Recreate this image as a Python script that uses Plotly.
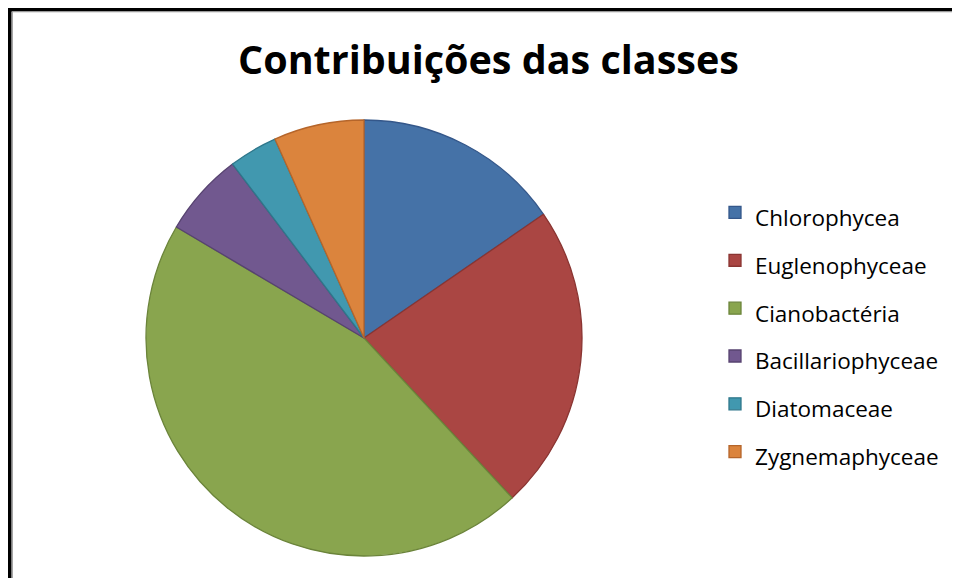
import plotly.graph_objects as go

# class shares (percent)
classes = ["Chlorophycea", "Euglenophyceae", "Cianobactéria",
           "Bacillariophyceae", "Diatomaceae", "Zygnemaphyceae"]
shares = [15.4, 22.7, 45.4, 6.2, 3.6, 6.7]

fill_colors = ["#4572A7", "#AA4643", "#89A54E", "#71588F", "#4198AF", "#DB843D"]
edge_colors = ["#34578A", "#8A3532", "#6B843A", "#574370", "#2F778B", "#B5652A"]

# page body has an 8px margin, so the figure is a bit smaller than the window
W, H = 952, 570


def px_x(v):
    return v / W


def px_y(v):
    return 1 - v / H


fig = go.Figure(go.Pie(
    labels=[f"<span style='font-size:22.5px'>{c}</span>" for c in classes],
    values=shares,
    sort=False,
    direction="clockwise",
    rotation=0,
    textinfo="none",
    hoverinfo="label+percent",
    marker=dict(colors=fill_colors, line=dict(color=edge_colors, width=1.3)),
    domain=dict(x=[px_x(138), px_x(574)], y=[px_y(548), px_y(112)]),
))

fig.update_layout(
    width=W, height=H,
    margin=dict(l=0, r=0, t=0, b=0),
    paper_bgcolor="white",
    font=dict(family="Open Sans, Lato, sans-serif", color="black"),
    title=dict(text="<b>Contribuições das classes</b>",
               x=px_x(480.5), y=px_y(52), xanchor="center", yanchor="middle",
               font=dict(size=39.5, family="Open Sans, sans-serif", color="black")),
    # big legend font only sets the row spacing; the labels carry their own size
    legend=dict(x=px_x(707), xanchor="left", y=px_y(324.5), yanchor="middle",
                font=dict(size=34.5), bgcolor="rgba(0,0,0,0)"),
    shapes=[
        dict(type="rect", xref="paper", yref="paper",
             x0=px_x(1.5), x1=1.1, y0=-0.1, y1=px_y(1.5),
             line=dict(color="black", width=4)),
        dict(type="rect", xref="paper", yref="paper",
             x0=px_x(4.5), x1=1.1, y0=-0.1, y1=px_y(3.8),
             line=dict(color="#A6A6A6", width=1)),
    ],
)

fig.write_html("out.html")
